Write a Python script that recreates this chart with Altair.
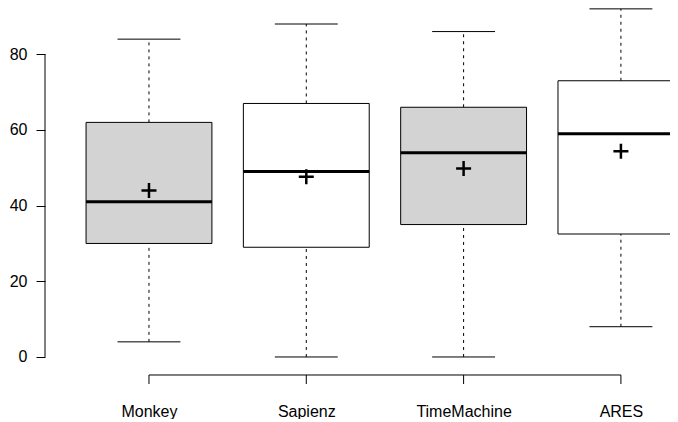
import altair as alt
import pandas as pd

groups = ["Monkey", "Sapienz", "TimeMachine", "ARES"]
lower = [4, 0, 0, 8]
q1 = [30, 29, 35, 32.5]
median = [41, 49, 54, 59]
q3 = [62, 67, 66, 73]
upper = [84, 88, 86, 92]
mean = [44, 47.6, 49.8, 54.4]
y_ticks = [0, 20, 40, 60, 80]

pos = [i + 1 for i in range(len(groups))]
df = pd.DataFrame({
    "group": groups, "pos": pos,
    "lo": lower, "q1": q1, "med": median, "q3": q3, "hi": upper, "mean": mean,
})
df["bl"] = df["pos"] - 0.4
df["br"] = df["pos"] + 0.4
df["cl"] = df["pos"] - 0.2
df["cr"] = df["pos"] + 0.2

FONT = "Liberation Sans"
XD = [0.339, 4.312]
YD = [-7.14, 92.23]

xs = alt.Scale(domain=XD, nice=False, zero=False)
ys = alt.Scale(domain=YD, nice=False, zero=False)

label_expr = "{" + ",".join(f"'{p}':'{g}'" for p, g in zip(pos, groups)) + "}[datum.value]"
XAX = alt.Axis(values=pos, labelExpr=label_expr, domain=False, ticks=False, grid=False,
               labelPadding=19, labelFontSize=16, labelFont=FONT, labelColor="black",
               title=None)
YAX = alt.Axis(values=y_ticks, domain=False, tickSize=9, tickColor="black", labelPadding=9,
               labelFontSize=16, labelFont=FONT, labelColor="black", grid=False, title=None)
X = lambda f: alt.X(f, type="quantitative", scale=xs, axis=XAX)
Y = lambda f: alt.Y(f, type="quantitative", scale=ys, axis=YAX)

base = alt.Chart(df)

whisk_hi = base.mark_rule(color="black", strokeWidth=1, strokeDash=[3, 4]).encode(
    x=X("pos"), y=Y("q3"), y2="hi")
whisk_lo = base.mark_rule(color="black", strokeWidth=1, strokeDash=[3, 4]).encode(
    x=X("pos"), y=Y("lo"), y2="q1")
cap_hi = base.mark_rule(color="black", strokeWidth=1).encode(
    x=X("cl"), x2="cr", y=Y("hi"))
cap_lo = base.mark_rule(color="black", strokeWidth=1).encode(
    x=X("cl"), x2="cr", y=Y("lo"))
box = base.mark_rect(stroke="black", strokeWidth=1, clip=True).encode(
    x=X("bl"), x2="br", y=Y("q1"), y2="q3",
    fill=alt.Fill("group:N", scale=alt.Scale(domain=groups,
                  range=["#D3D3D3", "#FFFFFF", "#D3D3D3", "#FFFFFF"]), legend=None))
med = base.mark_rule(color="black", strokeWidth=3, clip=True).encode(
    x=X("bl"), x2="br", y=Y("med"))
mn = base.mark_point(shape="M-1,0H1M0,-1V1", size=225, color="black",
                     strokeWidth=2.5, filled=False, opacity=1).encode(
    x=X("pos"), y=Y("mean"))

# axis lines in R style
yaxis_df = pd.DataFrame({"x": [XD[0]], "y0": [y_ticks[0]], "y1": [y_ticks[-1]]})
yaxis = alt.Chart(yaxis_df).mark_rule(color="black", strokeWidth=1).encode(
    x=X("x"), y=Y("y0"), y2="y1")
xaxis_df = pd.DataFrame({"x0": [pos[0]], "x1": [pos[-1]], "y": [-4.76]})
xaxis = alt.Chart(xaxis_df).mark_rule(color="black", strokeWidth=1).encode(
    x=X("x0"), x2="x1", y=Y("y"))
xt_df = pd.DataFrame({"x": pos, "y0": [-4.76] * 4, "y1": [-7.14] * 4})
xticks = alt.Chart(xt_df).mark_rule(color="black", strokeWidth=1).encode(
    x=X("x"), y=Y("y0"), y2="y1")

chart = alt.layer(
    whisk_hi, whisk_lo, cap_hi, cap_lo, box, med, mn, yaxis, xaxis, xticks
).properties(
    width=625, height=376,
    padding={"left": 1, "top": 0, "right": 0, "bottom": 0},
).configure(background="white").configure_view(stroke=None)

chart.save("out.html", embed_options={"renderer": "svg", "actions": False})
